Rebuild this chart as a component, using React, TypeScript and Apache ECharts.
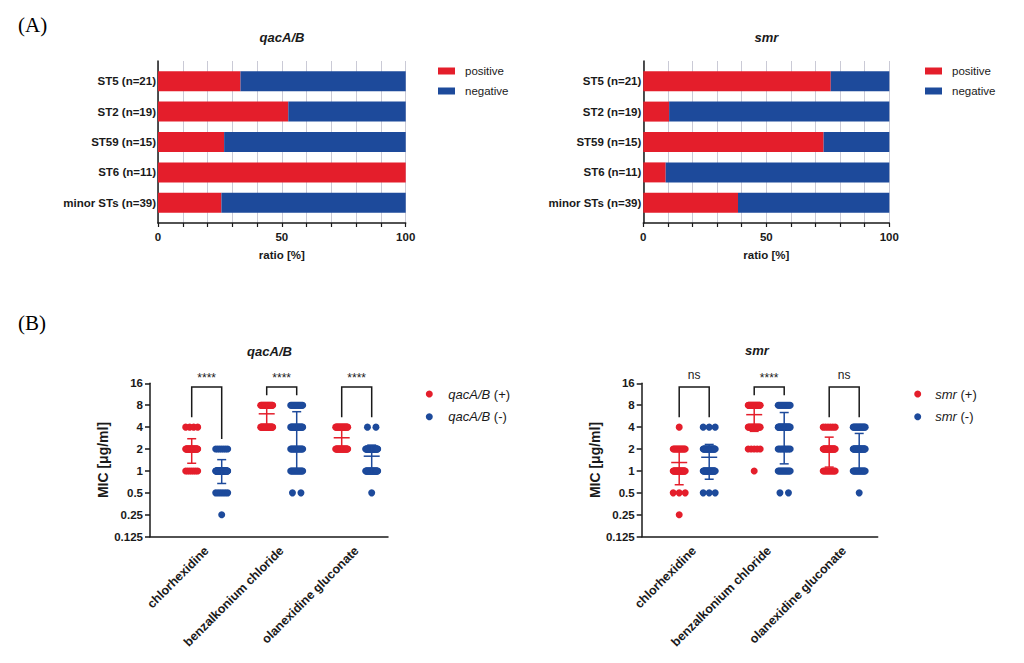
import React, { useEffect, useRef } from "react";
import * as echarts from "echarts";

const RED = "#E41E2B";
const BLUE = "#1D4A9B";
const INK = "#1a1a1a";
const FONT = '"Liberation Sans", Arial, sans-serif';
const SERIF = '"Liberation Serif", "Times New Roman", serif';

// ---------- Panel A data ----------
const stCategories = ["ST5 (n=21)", "ST2 (n=19)", "ST59 (n=15)", "ST6 (n=11)", "minor STs (n=39)"];
const qacPositivePct = [33.3, 52.6, 26.7, 100, 25.6];
const qacNegativePct = [66.7, 47.4, 73.3, 0, 74.4];
const smrPositivePct = [76.2, 10.5, 73.3, 9.1, 38.5];
const smrNegativePct = [23.8, 89.5, 26.7, 90.9, 61.5];
const ratioTicks = [0, 50, 100];

// ---------- Panel B data ----------
const agents = ["chlorhexidine", "benzalkonium chloride", "olanexidine gluconate"];
const micTicks = [0.125, 0.25, 0.5, 1, 2, 4, 8, 16];
// rows: [MIC (µg/ml), number of isolates]
const qacPosMIC = [
  [[1, 7], [2, 31], [4, 4]],
  [[4, 20], [8, 22]],
  [[2, 24], [4, 18]],
];
const qacNegMIC = [
  [[0.25, 1], [0.5, 6], [1, 49], [2, 7]],
  [[0.5, 2], [1, 14], [2, 14], [4, 17], [8, 16]],
  [[0.5, 1], [1, 28], [2, 32], [4, 2]],
];
const smrPosMIC = [
  [[0.25, 1], [0.5, 3], [1, 27], [2, 13], [4, 1]],
  [[1, 1], [2, 5], [4, 14], [8, 25]],
  [[1, 11], [2, 28], [4, 6]],
];
const smrNegMIC = [
  [[0.5, 3], [1, 29], [2, 25], [4, 3]],
  [[0.5, 2], [1, 13], [2, 9], [4, 23], [8, 13]],
  [[0.5, 1], [1, 17], [2, 28], [4, 14]],
];
const qacSignif = ["****", "****", "****"];
const smrSignif = ["ns", "****", "ns"];

// ---------- layout ----------
const A_TOP = 61;
const A_HEIGHT = 162;
const A_INSET = 5;
const B_TOP = 383.3;
const B_HEIGHT = 153.4;
const B_DATA_WIDTH = 225;
const PX_PER_UNIT = B_DATA_WIDTH / 3;
const PAIR_OFF = 0.2;

function spreadPx(n: number) {
  return n <= 1 ? 0 : n === 2 ? 8.5 : 12;
}

function columnPoints(rows: number[][][] | any, center: number) {
  const pts: number[][] = [];
  rows.forEach(([mic, n]: number[]) => {
    const s = spreadPx(n) / PX_PER_UNIT;
    for (let k = 0; k < n; k++) {
      const off = n === 1 ? 0 : -s / 2 + (s * k) / (n - 1);
      pts.push([center + off, mic]);
    }
  });
  return pts;
}

function stats(rows: any) {
  let n = 0;
  let sum = 0;
  rows.forEach(([v, c]: number[]) => {
    n += c;
    sum += v * c;
  });
  const mean = sum / n;
  let ss = 0;
  rows.forEach(([v, c]: number[]) => {
    ss += c * (v - mean) * (v - mean);
  });
  return [mean, Math.sqrt(ss / (n - 1))];
}

function buildOption() {
  const grid: any[] = [];
  const xAxis: any[] = [];
  const yAxis: any[] = [];
  const series: any[] = [];
  const legend: any[] = [];

  const aPanels = [
    { left: 158, width: 247.7, pos: qacPositivePct, neg: qacNegativePct, legendLeft: 438 },
    { left: 643.3, width: 246, pos: smrPositivePct, neg: smrNegativePct, legendLeft: 925 },
  ];
  aPanels.forEach((p, i) => {
    const gFrame = grid.length;
    grid.push({ left: p.left, top: A_TOP, width: p.width, height: A_HEIGHT });
    const gBar = grid.length;
    grid.push({ left: p.left, top: A_TOP + A_INSET, width: p.width, height: A_HEIGHT - 2 * A_INSET });

    xAxis.push({
      type: "value",
      gridIndex: gFrame,
      min: ratioTicks[0],
      max: ratioTicks[ratioTicks.length - 1],
      interval: ratioTicks[1] - ratioTicks[0],
      axisLine: { show: true, onZero: false, lineStyle: { color: INK, width: 1.5 } },
      axisTick: { show: true, length: 4, lineStyle: { color: INK, width: 1.2 } },
      minorTick: { show: true, splitNumber: 5, length: 4, lineStyle: { color: INK, width: 1.2 } },
      splitLine: { show: true, lineStyle: { color: "#cacad6", width: 1 } },
      minorSplitLine: { show: true, lineStyle: { color: "#cacad6", width: 1 } },
      axisLabel: { fontFamily: FONT, fontSize: 11.5, fontWeight: "bold", color: INK, margin: 8 },
      name: "ratio [%]",
      nameLocation: "middle",
      nameGap: 26,
      nameTextStyle: { fontFamily: FONT, fontSize: 11.5, fontWeight: "bold", color: INK },
    });
    const xb = xAxis.length;
    xAxis.push({ type: "value", gridIndex: gBar, min: 0, max: 100, show: false });

    yAxis.push({
      type: "value",
      gridIndex: gFrame,
      min: 0,
      max: 1,
      axisLine: { show: true, onZero: false, lineStyle: { color: INK, width: 1.5 } },
      axisTick: { show: false },
      axisLabel: { show: false },
      splitLine: { show: false },
    });
    const yb = yAxis.length;
    yAxis.push({
      type: "category",
      gridIndex: gBar,
      inverse: true,
      data: stCategories,
      axisLine: { show: false },
      axisTick: { show: false },
      axisLabel: { fontFamily: FONT, fontSize: 11.5, fontWeight: "bold", color: INK, margin: 2 },
    });

    series.push({
      type: "bar",
      name: "positive",
      xAxisIndex: xb,
      yAxisIndex: yb,
      stack: "A" + i,
      barWidth: 20,
      itemStyle: { color: RED },
      data: p.pos,
    });
    series.push({
      type: "bar",
      name: "negative",
      xAxisIndex: xb,
      yAxisIndex: yb,
      stack: "A" + i,
      barWidth: 20,
      itemStyle: { color: BLUE },
      data: p.neg,
    });

    legend.push({
      orient: "vertical",
      left: p.legendLeft,
      top: 64,
      padding: 0,
      itemWidth: 17,
      itemHeight: 7,
      itemGap: 6,
      icon: "rect",
      selectedMode: false,
      data: ["positive", "negative"],
      textStyle: { fontFamily: FONT, fontSize: 11.5, color: INK, lineHeight: 14, padding: [0, 0, 0, 5] },
    });
  });

  const bPanels = [
    {
      frameLeft: 150, frameWidth: 238, dataLeft: 169.2,
      pos: qacPosMIC, neg: qacNegMIC, names: ["qacA/B (+)", "qacA/B (-)"],
      signif: qacSignif, legendLeft: 425.8, legendPad: 10.5,
    },
    {
      frameLeft: 641.7, frameWidth: 236, dataLeft: 656.7,
      pos: smrPosMIC, neg: smrNegMIC, names: ["smr (+)", "smr (-)"],
      signif: smrSignif, legendLeft: 914.2, legendPad: 9,
    },
  ];

  bPanels.forEach((p) => {
    const gFrame = grid.length;
    grid.push({ left: p.frameLeft, top: B_TOP, width: p.frameWidth, height: B_HEIGHT });
    const gData = grid.length;
    grid.push({ left: p.dataLeft, top: B_TOP, width: B_DATA_WIDTH, height: B_HEIGHT });

    xAxis.push({
      type: "value",
      gridIndex: gFrame,
      min: 0,
      max: 1,
      axisLine: { show: true, onZero: false, lineStyle: { color: INK, width: 1.5 } },
      axisTick: { show: false },
      axisLabel: { show: false },
      splitLine: { show: false },
    });
    xAxis.push({
      type: "category",
      gridIndex: gData,
      data: agents,
      boundaryGap: true,
      axisLine: { show: false },
      axisTick: { show: false },
      splitLine: { show: false },
      axisLabel: {
        rotate: 45,
        interval: 0,
        fontFamily: FONT,
        fontSize: 12.5,
        fontWeight: "bold",
        color: INK,
        margin: 12,
      },
    });
    const xv = xAxis.length;
    xAxis.push({ type: "value", gridIndex: gData, min: -0.5, max: 2.5, show: false });

    yAxis.push({
      type: "log",
      logBase: 2,
      gridIndex: gFrame,
      min: micTicks[0],
      max: micTicks[micTicks.length - 1],
      axisLine: { show: true, onZero: false, lineStyle: { color: INK, width: 1.5 } },
      axisTick: { show: true, length: 5, lineStyle: { color: INK, width: 1.5 } },
      axisLabel: { fontFamily: FONT, fontSize: 11.5, fontWeight: "bold", color: INK, margin: 7 },
      splitLine: { show: false },
      name: "MIC [μg/ml]",
      nameLocation: "middle",
      nameGap: 37,
      nameTextStyle: { fontFamily: FONT, fontSize: 14, fontWeight: "bold", color: INK },
    });
    const yv = yAxis.length;
    yAxis.push({
      type: "log",
      logBase: 2,
      gridIndex: gData,
      min: micTicks[0],
      max: micTicks[micTicks.length - 1],
      show: false,
    });

    const groups = [p.pos, p.neg];
    const colors = [RED, BLUE];
    groups.forEach((cols, side) => {
      const pts: number[][] = [];
      cols.forEach((rows: any, g: number) => {
        const center = g + (side === 0 ? -PAIR_OFF : PAIR_OFF);
        columnPoints(rows, center).forEach((pt) => pts.push(pt));
      });
      series.push({
        type: "scatter",
        name: p.names[side],
        xAxisIndex: xv,
        yAxisIndex: yv,
        symbol: "circle",
        symbolSize: 7,
        itemStyle: { color: colors[side], opacity: 1 },
        data: pts,
        z: 2,
      });
    });

    // mean ± SD
    const errData: number[][] = [];
    groups.forEach((cols, side) => {
      cols.forEach((rows: any, g: number) => {
        const [m, s] = stats(rows);
        errData.push([g + (side === 0 ? -PAIR_OFF : PAIR_OFF), m, s, side]);
      });
    });
    series.push({
      type: "custom",
      xAxisIndex: xv,
      yAxisIndex: yv,
      z: 4,
      silent: true,
      encode: { x: 0, y: 1 },
      data: errData,
      renderItem: (_params: any, api: any) => {
        const x = api.value(0);
        const m = api.value(1);
        const s = api.value(2);
        const c = api.value(3) === 0 ? RED : BLUE;
        const pm = api.coord([x, m]);
        const pt = api.coord([x, m + s]);
        const pb = api.coord([x, Math.max(m - s, 0.13)]);
        const st = { stroke: c, lineWidth: 1.5 };
        return {
          type: "group",
          children: [
            { type: "line", shape: { x1: pm[0], y1: pt[1], x2: pm[0], y2: pb[1] }, style: st },
            { type: "line", shape: { x1: pm[0] - 8, y1: pm[1], x2: pm[0] + 8, y2: pm[1] }, style: st },
            { type: "line", shape: { x1: pm[0] - 4.5, y1: pt[1], x2: pm[0] + 4.5, y2: pt[1] }, style: st },
            { type: "line", shape: { x1: pm[0] - 4.5, y1: pb[1], x2: pm[0] + 4.5, y2: pb[1] }, style: st },
          ],
        };
      },
    });

    // significance brackets
    const brData: number[][] = agents.map((_a, g) => [
      g,
      Math.max(...p.pos[g].map((r: number[]) => r[0])),
      Math.max(...p.neg[g].map((r: number[]) => r[0])),
    ]);
    const sig = p.signif;
    series.push({
      type: "custom",
      xAxisIndex: xv,
      yAxisIndex: yv,
      z: 5,
      silent: true,
      encode: { x: 0, y: 1 },
      data: brData,
      renderItem: (params: any, api: any) => {
        const g = api.value(0);
        const pl = api.coord([g - PAIR_OFF, api.value(1)]);
        const pr = api.coord([g + PAIR_OFF, api.value(2)]);
        const top = api.coord([g, micTicks[micTicks.length - 1]])[1] + 3.7;
        const label = sig[params.dataIndex];
        const isStar = label.indexOf("*") >= 0;
        return {
          type: "group",
          children: [
            {
              type: "polyline",
              shape: {
                points: [
                  [pl[0], pl[1] - 10],
                  [pl[0], top],
                  [pr[0], top],
                  [pr[0], pr[1] - 10],
                ],
              },
              style: { stroke: INK, lineWidth: 1.5, fill: "none" },
            },
            {
              type: "text",
              x: (pl[0] + pr[0]) / 2,
              y: isStar ? top - 9 : top - 12.5,
              style: {
                text: label,
                fill: INK,
                fontFamily: FONT,
                fontSize: 12,
                align: "center",
                verticalAlign: "middle",
              },
            },
          ],
        };
      },
    });

    legend.push({
      orient: "vertical",
      left: p.legendLeft,
      top: 386.5,
      padding: 0,
      itemWidth: 7,
      itemHeight: 7,
      itemGap: 7.7,
      selectedMode: false,
      data: p.names,
      formatter: (name: string) => name.replace(/^(\S+)/, "{i|$1}"),
      textStyle: {
        fontFamily: FONT,
        fontSize: 13,
        color: INK,
        lineHeight: 15,
        padding: [0, 0, 0, p.legendPad],
        rich: { i: { fontFamily: FONT, fontSize: 13, fontStyle: "italic", color: INK, lineHeight: 15 } },
      },
    });
  });

  const txt = (x: number, y: number, text: string, extra: any) => ({
    type: "text",
    x,
    y,
    silent: true,
    style: { text, fill: "#000", align: "center", verticalAlign: "middle", ...extra },
  });
  const titleStyle = { fontFamily: FONT, fontSize: 13, fontWeight: "bold", fontStyle: "italic", fill: INK };
  const letterStyle = { fontFamily: SERIF, fontSize: 21, align: "left", fill: "#000" };

  const graphic = [
    txt(18, 25, "(A)", letterStyle),
    txt(18, 323, "(B)", letterStyle),
    txt(282, 37, "qacA/B", titleStyle),
    txt(766.5, 37, "smr", titleStyle),
    txt(269.5, 351, "qacA/B", titleStyle),
    txt(757, 350.5, "smr", titleStyle),
  ];

  return {
    animation: false,
    backgroundColor: "#ffffff",
    textStyle: { fontFamily: FONT },
    grid,
    xAxis,
    yAxis,
    series,
    legend,
    graphic,
  };
}

export default function App() {
  const ref = useRef<HTMLDivElement>(null);
  useEffect(() => {
    if (!ref.current) return;
    const chart = echarts.init(ref.current, undefined, { renderer: "svg" });
    chart.setOption(buildOption() as any);
    return () => chart.dispose();
  }, []);
  return (
    <div
      ref={ref}
      style={{ position: "fixed", left: 0, top: 0, width: 1024, height: 663, background: "#fff" }}
    />
  );
}
